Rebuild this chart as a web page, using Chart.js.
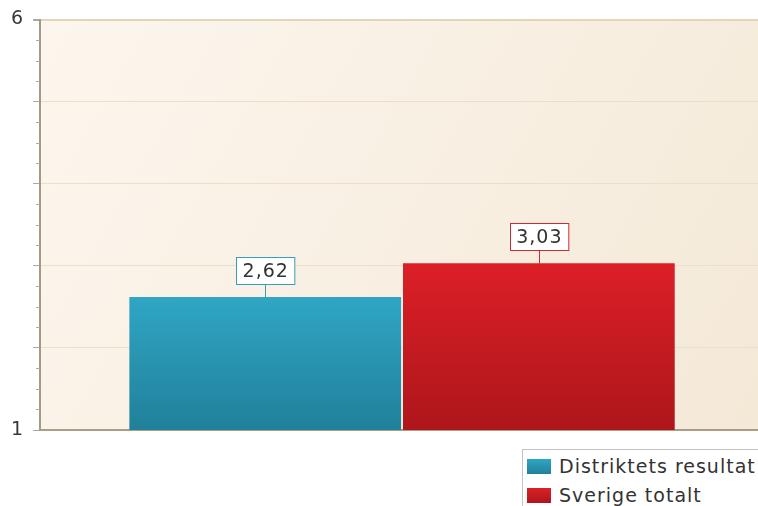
<!DOCTYPE html>
<html>
<head>
<meta charset="utf-8">
<script src="https://cdn.jsdelivr.net/npm/chart.js@4"></script>
<style>
  html, body { margin: 0; padding: 0; background: #fff; overflow: hidden; }
  #wrap { position: relative; width: 758px; height: 506px; overflow: hidden; }
  #myChart { position: absolute; left: 0; top: 0; }
  #legend {
    position: absolute; left: 522px; top: 449px; width: 260px; height: 80px;
    border: 1px solid #c4c4c4; background: #fff;
    font-family: 'DejaVu Sans', sans-serif; font-size: 19px; color: #333; letter-spacing: 1px;
  }
  #legend .item { position: absolute; left: 4px; height: 20px; line-height: 20px; white-space: nowrap; }
  #legend .sw { position: absolute; left: 0; top: 3px; width: 24px; height: 15px; }
  #legend .txt { position: absolute; left: 32px; top: 0; }
</style>
</head>
<body>
<div id="wrap">
  <canvas id="myChart" width="764" height="506"></canvas>
  <div id="legend"></div>
</div>
<script>
var categories = [''];
var seriesNames = ['Distriktets resultat', 'Sverige totalt'];
var seriesValues = [[2.62], [3.03]];
var tickLabels = [1, 6];

// top / bottom colors for each series (gradient), plus label border
var topColors = ['#2fa6c4', '#dc1f27'];
var bottomColors = ['#21809a', '#ae161c'];
var lineColors = ['#3a9cb6', '#cf2a31'];

function barGradient(context, i) {
    var chart = context.chart;
    var area = chart.chartArea;
    if (!area) return topColors[i];
    var y = chart.scales.y;
    var top = y.getPixelForValue(context.raw);
    var bottom = y.getPixelForValue(y.min);
    if (!isFinite(top)) top = area.top;
    var g = chart.ctx.createLinearGradient(0, top, 0, bottom);
    g.addColorStop(0, topColors[i]);
    g.addColorStop(1, bottomColors[i]);
    return g;
}

var plotBackground = {
    id: 'plotBackground',
    beforeDraw: function(chart) {
        var a = chart.chartArea, ctx = chart.ctx;
        var g = ctx.createLinearGradient(a.left, a.top, a.right, a.bottom);
        g.addColorStop(0, '#fcf6ee');
        g.addColorStop(1, '#f4e9d7');
        ctx.save();
        ctx.fillStyle = g;
        ctx.fillRect(a.left, a.top, a.right - a.left, a.bottom - a.top);
        ctx.restore();
    },
    afterDraw: function(chart) {
        // minor ticks on the y axis
        var y = chart.scales.y, ctx = chart.ctx, a = chart.chartArea;
        ctx.save();
        ctx.strokeStyle = '#a8a8a8';
        ctx.lineWidth = 1;
        y.ticks.forEach(function(t) {
            if (Math.abs(t.value - Math.round(t.value)) < 1e-6) return;
            var p = Math.round(y.getPixelForValue(t.value)) + 0.5;
            ctx.beginPath();
            ctx.moveTo(a.left - 4, p);
            ctx.lineTo(a.left, p);
            ctx.stroke();
        });
        ctx.restore();
    }
};

var valueLabels = {
    id: 'valueLabels',
    afterDatasetsDraw: function(chart) {
        var ctx = chart.ctx;
        ctx.save();
        ctx.font = '19px "DejaVu Sans"';
        if ('letterSpacing' in ctx) ctx.letterSpacing = '1px';
        chart.data.datasets.forEach(function(ds, i) {
            var meta = chart.getDatasetMeta(i);
            meta.data.forEach(function(bar, j) {
                var txt = ds.data[j].toFixed(2).replace('.', ',');
                var w = ctx.measureText(txt).width + 12;
                var h = 27;
                var bx = Math.round(bar.x - w / 2) + 0.5;
                var by = Math.round(bar.y - 13 - h) + 0.5;
                ctx.fillStyle = '#fff';
                ctx.fillRect(bx, by, w, h);
                ctx.strokeStyle = lineColors[i];
                ctx.lineWidth = 1;
                ctx.strokeRect(bx, by, w, h);
                ctx.beginPath();
                ctx.moveTo(Math.round(bar.x) + 0.5, by + h);
                ctx.lineTo(Math.round(bar.x) + 0.5, bar.y);
                ctx.stroke();
                ctx.fillStyle = '#333';
                ctx.textAlign = 'center';
                ctx.textBaseline = 'middle';
                ctx.fillText(txt, bar.x + 0.5, by + h / 2 + 1);
            });
        });
        ctx.restore();
    }
};

Chart.defaults.font.family = '"DejaVu Sans", sans-serif';

var ctx = document.getElementById('myChart');
var myChart = new Chart(ctx, {
    type: 'bar',
    data: {
        labels: categories,
        datasets: seriesNames.map(function(name, i) {
            return {
                label: name,
                data: seriesValues[i],
                backgroundColor: function(c) { return barGradient(c, i); },
                borderWidth: 0,
                categoryPercentage: 0.756,
                barPercentage: 0.993
            };
        })
    },
    options: {
        responsive: false,
        animation: false,
        events: [],
        layout: { padding: { left: 1, top: 18, right: 0, bottom: 76 } },
        plugins: {
            legend: { display: false },
            tooltip: { enabled: false }
        },
        scales: {
            x: {
                ticks: { display: false },
                grid: { display: true, drawOnChartArea: false, drawTicks: false },
                border: { display: true, color: '#a99d86', width: 2 }
            },
            y: {
                min: 1,
                max: 6,
                ticks: {
                    stepSize: 0.25,
                    autoSkip: false,
                    padding: 10,
                    color: '#383838',
                    font: { size: 19, lineHeight: 1 },
                    callback: function(v) {
                        return tickLabels.indexOf(v) >= 0 ? String(v) : '';
                    }
                },
                grid: {
                    tickLength: 7,
                    lineWidth: function(c) { return c.tick && c.tick.value === 6 ? 2 : 1; },
                    color: function(c) {
                        if (!c.tick) return 'rgba(0,0,0,0)';
                        var v = c.tick.value;
                        if (v === 6) return '#e3d5bb';
                        return Math.abs(v - Math.round(v)) < 1e-6 ? '#ebdfc9' : 'rgba(0,0,0,0)';
                    },
                    tickColor: function(c) {
                        if (!c.tick) return 'rgba(0,0,0,0)';
                        var v = c.tick.value;
                        return Math.abs(v - Math.round(v)) < 1e-6 ? '#a8a8a8' : 'rgba(0,0,0,0)';
                    }
                },
                border: { display: true, color: '#a49a84', width: 2 }
            }
        }
    },
    plugins: [plotBackground, valueLabels]
});

// legend built from the chart datasets
var legend = document.getElementById('legend');
myChart.data.datasets.forEach(function(ds, i) {
    var item = document.createElement('div');
    item.className = 'item';
    item.style.top = (6 + i * 29) + 'px';
    var sw = document.createElement('span');
    sw.className = 'sw';
    sw.style.background = 'linear-gradient(' + topColors[i] + ',' + bottomColors[i] + ')';
    var tx = document.createElement('span');
    tx.className = 'txt';
    tx.textContent = ds.label;
    item.appendChild(sw);
    item.appendChild(tx);
    legend.appendChild(item);
});
</script>
</body>
</html>
